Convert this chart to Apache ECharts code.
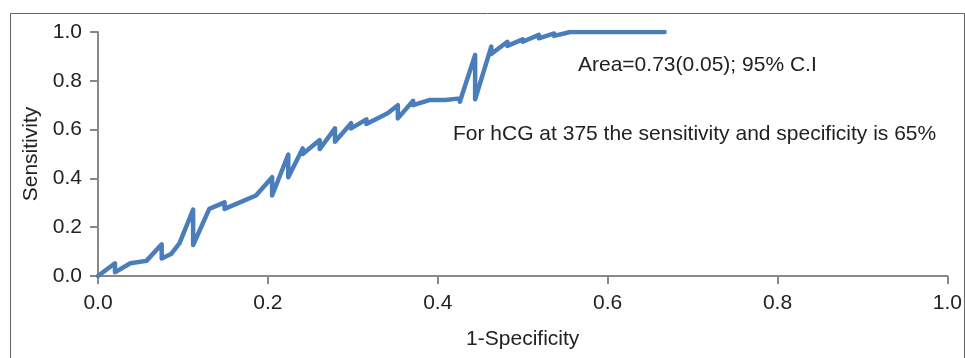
<!DOCTYPE html>
<html><head><meta charset="utf-8">
<script src="https://cdn.jsdelivr.net/npm/echarts@6/dist/echarts.min.js"></script>
<style>html,body{margin:0;padding:0;background:#fff}#c{width:965px;height:358px}</style>
</head><body><div id="c"></div>
<script>
var fpr = [0, 0.02, 0.02, 0.038, 0.057, 0.075, 0.075, 0.086, 0.096, 0.112, 0.112, 0.131, 0.149, 0.149, 0.186, 0.205, 0.205, 0.224, 0.224, 0.241, 0.241, 0.261, 0.261, 0.279, 0.279, 0.298, 0.298, 0.316, 0.316, 0.341, 0.353, 0.353, 0.371, 0.371, 0.39, 0.409, 0.426, 0.426, 0.444, 0.444, 0.463, 0.463, 0.482, 0.482, 0.5, 0.5, 0.519, 0.519, 0.537, 0.537, 0.556, 0.556, 0.574, 0.667];
var tpr = [0, 0.052, 0.015, 0.052, 0.062, 0.13, 0.072, 0.09, 0.135, 0.272, 0.127, 0.275, 0.302, 0.275, 0.33, 0.405, 0.33, 0.498, 0.405, 0.523, 0.5, 0.557, 0.52, 0.605, 0.55, 0.626, 0.605, 0.642, 0.623, 0.667, 0.70, 0.646, 0.718, 0.70, 0.721, 0.721, 0.728, 0.714, 0.906, 0.724, 0.94, 0.91, 0.96, 0.943, 0.97, 0.96, 0.988, 0.974, 0.994, 0.984, 1.0, 0.992, 1.0, 1.0];
var annotations = ["Area=0.73(0.05); 95% C.I", "For hCG at 375 the sensitivity and specificity is 65%"];
var xTitle = "1-Specificity", yTitle = "Sensitivity";

var pts = fpr.map(function(x, i){ return [x, tpr[i]]; });
var chart = echarts.init(document.getElementById('c'));
var font = 'Liberation Sans, Arial, sans-serif';
var axisCommon = {
  min: 0, max: 1, interval: 0.2,
  axisLine: {show: true, lineStyle: {color: '#888', width: 2}},
  axisTick: {show: true, length: 8, lineStyle: {color: '#888', width: 2}},
  splitLine: {show: false},
  axisLabel: {color: '#222', fontSize: 21, fontFamily: font, formatter: function(v){ return v.toFixed(1); }},
  nameTextStyle: {color: '#222', fontSize: 21, fontFamily: font}
};
chart.setOption({
  animation: false,
  grid: {left: 98, right: 15, top: 32, bottom: 82},
  xAxis: Object.assign({}, axisCommon, {type: 'value', name: xTitle, nameLocation: 'middle', nameGap: 53,
    axisLabel: Object.assign({}, axisCommon.axisLabel, {margin: 17})}),
  yAxis: Object.assign({}, axisCommon, {type: 'value', name: yTitle, nameLocation: 'middle', nameGap: 56,
    axisLabel: Object.assign({}, axisCommon.axisLabel, {margin: 16})}),
  graphic: [
    {type: 'rect', left: 8, top: 11, shape: {width: 954, height: 360}, style: {fill: 'none', stroke: '#666', lineWidth: 1}, silent: true},
    {type: 'text', left: 578, top: 55, style: {text: annotations[0], fontSize: 21, fontFamily: font, fill: '#222'}},
    {type: 'text', left: 453, top: 124, style: {text: annotations[1], fontSize: 21, fontFamily: font, fill: '#222'}}
  ],
  series: [{
    type: 'line', data: pts, showSymbol: false, symbol: 'none',
    lineStyle: {color: '#4a7ebb', width: 4.5, cap: 'round', join: 'round'}
  }]
});
</script></body></html>
